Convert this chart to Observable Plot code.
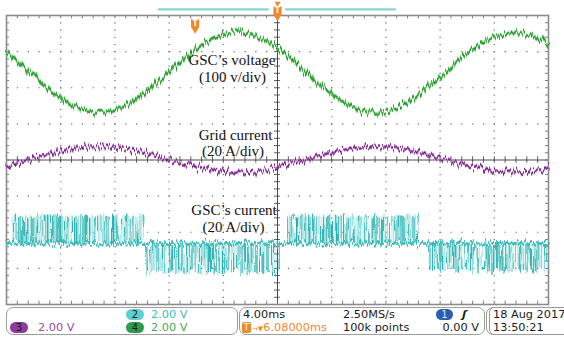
<!DOCTYPE html>
<html><head><meta charset="utf-8">
<script src="https://cdn.jsdelivr.net/npm/d3@7"></script>
<script src="https://cdn.jsdelivr.net/npm/@observablehq/plot@0.6"></script>
<style>
html,body{margin:0;padding:0;background:#fff;width:564px;height:338px;overflow:hidden;}
#wrap{position:relative;width:564px;height:338px;}
#chart svg{display:block;}
#status{position:absolute;left:0;top:0;width:564px;height:338px;font-family:"DejaVu Sans";font-size:11.3px;color:#1a1a1a;}
.box{position:absolute;border:1px solid #9c9c9c;border-radius:7px;box-sizing:border-box;}
.t{position:absolute;white-space:nowrap;line-height:13px;}
.badge{position:absolute;border-radius:6px;text-align:center;line-height:11px;height:11px;font-size:10px;color:#1a1a1a;}
</style></head><body>
<svg width="0" height="0" style="position:absolute">
<defs>
<filter id="jag" filterUnits="userSpaceOnUse" x="0" y="0" width="564" height="306">
  <feTurbulence type="fractalNoise" baseFrequency="0.5 0.02" numOctaves="2" seed="4" result="n"/>
  <feColorMatrix in="n" type="matrix" values="0 0 0 0 0.5  0 1 0 0 0  0 0 0 0 0.5  0 0 0 0 1" result="m"/>
  <feDisplacementMap in="SourceGraphic" in2="m" scale="15" xChannelSelector="R" yChannelSelector="G"/>
</filter>
<filter id="jagpwm" filterUnits="userSpaceOnUse" x="0" y="0" width="564" height="306">
  <feTurbulence type="fractalNoise" baseFrequency="0.35 0.01" numOctaves="2" seed="9" result="n"/>
  <feColorMatrix in="n" type="matrix" values="1 0 0 0 0  0 1 0 0 0  0 0 0 0 0.5  0 0 0 0 1" result="m"/>
  <feDisplacementMap in="SourceGraphic" in2="m" scale="14" xChannelSelector="R" yChannelSelector="G"/>
</filter>
<pattern id="pwm" patternUnits="userSpaceOnUse" width="3.7" height="400">
  <rect x="0" y="0" width="2.0" height="400" fill="#b4e8e8"/>
  <rect x="0" y="0" width="0.9" height="400" fill="#22adad"/>
  <rect x="1.5" y="0" width="0.6" height="400" fill="#4ec5c5"/>
</pattern>
</defs></svg>
<div id="wrap"><div id="chart"></div>
<div id="status">
  <div class="box" style="left:6px;top:307px;width:232px;height:28px;"></div>
  <div class="box" style="left:239px;top:307px;width:246px;height:28px;"></div>
  <div class="box" style="left:486px;top:307px;width:100px;height:28px;"></div>
  <div class="box" style="left:489px;top:307px;width:100px;height:28px;border-radius:5px;"></div>

  <div class="badge" style="left:126px;top:308.5px;width:18px;background:#5fcfcf;">2</div>
  <div class="t" style="left:151px;top:307.5px;color:#3dbdbd;">2.00 V</div>
  <div class="badge" style="left:10px;top:321.5px;width:18px;background:#8e3a9e;">3</div>
  <div class="t" style="left:38px;top:320.5px;color:#9a4aa8;">2.00 V</div>
  <div class="badge" style="left:126px;top:321.5px;width:18px;background:#2f9a4a;">4</div>
  <div class="t" style="left:151px;top:320.5px;color:#46ad4a;">2.00 V</div>

  <div class="t" style="left:243px;top:307.5px;">4.00ms</div>
  <div class="t" style="left:343px;top:307.5px;">2.50MS/s</div>
  <div class="badge" style="left:436px;top:308.5px;width:17px;background:#2b5cb2;color:#e8e8e8;">1</div>
  <div class="t" style="left:462px;top:307.5px;font-style:italic;font-weight:bold;">ʃ</div>
  <div class="badge" style="left:242px;top:321.5px;width:9px;border-radius:2px;background:#f0892a;color:#fff;font-size:9px;">T</div>
  <div class="t" style="left:252px;top:320.5px;color:#f0892a;"><span style="font-size:7px;">→▼</span>6.08000ms</div>
  <div class="t" style="left:343px;top:320.5px;">100k points</div>
  <div class="t" style="right:85px;top:320.5px;">0.00 V</div>

  <div class="t" style="left:493px;top:307.5px;">18 Aug 2017</div>
  <div class="t" style="left:493px;top:320.5px;">13:50:21</div>
</div>
</div>
<script>
// time axis: ms relative to screen centre (4 ms/div), vertical: divisions
const times = [-20,-19,-18,-17,-16,-15,-14,-13,-12,-11,-10,-9,-8,-7,-6,-5,-4,-3,-2,-1,0,1,2,3,4,5,6,7,8,9,10,11,12,13,14,15,16,17,18,19,20];
const gscVoltage = [2.985,2.672,2.335,2.007,1.718,1.492,1.357,1.321,1.388,1.553,1.797,2.103,2.437,2.770,3.070,3.308,3.463,3.520,3.473,3.328,3.097,2.802,2.471,2.135,1.826,1.574,1.401,1.323,1.350,1.477,1.693,1.976,2.301,2.639,2.955,3.220,3.412,3.509,3.504,3.397,3.198];
const gridCurrent = [-0.160,-0.060,0.047,0.151,0.243,0.315,0.358,0.370,0.348,0.296,0.218,0.121,0.015,-0.091,-0.187,-0.262,-0.312,-0.330,-0.315,-0.269,-0.195,-0.101,0.004,0.111,0.209,0.289,0.344,0.369,0.361,0.320,0.251,0.161,0.058,-0.050,-0.150,-0.235,-0.296,-0.327,-0.325,-0.291,-0.227];
// GSC current: switching bursts (start, end, peak level) around a zero level
const pwmStart = [-19.5,-9.5,0.75,11.15];
const pwmEnd = [-9.9,0.2,10.55,19.9];
const pwmPeak = [-1.55,-3.12,-1.55,-3.08];
const gscBaseT = [-20,20];
const gscBase = [-2.31,-2.31];
const xGrid = [-16,-12,-8,-4,4,8,12,16];
const yGrid = [-3,-2,-1,1,2,3];
const labelText = ["GSC\u2019s voltage","(100 v/div)","Grid current","(20 A/div)","GSC\u2019s current","(20 A/div)"];
const labelX = [-3.36,-3.32,-3.1,-3.28,-3.21,-3.25];
const labelY = [2.76,2.29,0.68,0.24,-1.40,-1.87];
const recordBar = [-8.78,8.78];
const trigT = [-6.08];

const minorX = d3.range(-20, 20.001, 0.8);
const minorY = d3.range(-4, 4.001, 0.2);
const grid = "#6a6a6a", axisC = "#4a4a4a", orange = "#f0892a";

const chart = Plot.plot({
  width: 564, height: 306,
  marginLeft: 6, marginRight: 16, marginTop: 15, marginBottom: 2,
  x: {domain: [-20, 20], axis: null},
  y: {domain: [-4, 4], axis: null},
  style: {background: "white", overflow: "visible"},
  marks: [
    Plot.ruleX(xGrid, {stroke: grid, strokeWidth: 1.2, strokeDasharray: "1.2,6.025"}),
    Plot.ruleY(yGrid, {stroke: grid, strokeWidth: 1.2, strokeDasharray: "1.2,9.64"}),
    Plot.ruleX([0], {stroke: axisC, strokeWidth: 1}),
    Plot.ruleY([0], {stroke: axisC, strokeWidth: 1}),
    Plot.ruleX(minorX, {x: d => d, y1: -0.09, y2: 0.09, stroke: axisC, strokeWidth: 0.9}),
    Plot.ruleY(minorY, {y: d => d, x1: -0.22, x2: 0.22, stroke: axisC, strokeWidth: 0.9}),
    Plot.ruleX(minorX, {x: d => d, y1: 4, y2: 3.91, stroke: grid, strokeWidth: 0.9}),
    Plot.ruleX(minorX, {x: d => d, y1: -4, y2: -3.91, stroke: grid, strokeWidth: 0.9}),
    Plot.ruleY(minorY, {y: d => d, x1: -20, x2: -19.78, stroke: grid, strokeWidth: 0.9}),
    Plot.ruleY(minorY, {y: d => d, x1: 20, x2: 19.78, stroke: grid, strokeWidth: 0.9}),
    Plot.frame({stroke: "#8c8c8c", strokeWidth: 1.6}),
    // GSC current bursts
    Plot.rect(pwmStart, {x1: pwmStart, x2: pwmEnd, y1: -2.31, y2: pwmPeak, fill: "url(#pwm)"}),
    Plot.line(gscBaseT, {x: gscBaseT, y: gscBase, stroke: "#35baba", strokeWidth: 2.6}),
    // grid current
    Plot.line(times, {x: times, y: gridCurrent, stroke: "#b36cc2", strokeWidth: 3.4, curve: "catmull-rom"}),
    Plot.line(times, {x: times, y: gridCurrent, stroke: "#7a2389", strokeWidth: 1.3, curve: "catmull-rom"}),
    // GSC voltage
    Plot.line(times, {x: times, y: gscVoltage, stroke: "#5fc45f", strokeWidth: 3.6, curve: "catmull-rom"}),
    Plot.line(times, {x: times, y: gscVoltage, stroke: "#2c9334", strokeWidth: 1.3, curve: "catmull-rom"}),
    // labels
    Plot.text(labelText, {x: labelX, y: labelY, text: d => d, fontFamily: "Liberation Serif", fontSize: 15, fill: "#111"}),
    // record bar & markers
    Plot.ruleY([4.17], {x1: recordBar[0], x2: -0.6, stroke: "#86d6d6", strokeWidth: 2.2}),
    Plot.ruleY([4.17], {x1: 0.6, x2: recordBar[1], stroke: "#86d6d6", strokeWidth: 2.2}),
    Plot.dot([0], {x: 0, y: 4.33, symbol: "triangle", rotate: 180, r: 2.2, fill: orange}),
    Plot.dot([0], {x: 0, y: 4.14, symbol: "square", r: 4.6, fill: orange}),
    Plot.dot([0], {x: 0, y: 3.97, symbol: "triangle", rotate: 180, r: 3.2, fill: orange}),
    Plot.text([0], {x: 0, y: 4.14, text: () => "T", fill: "#fff", fontSize: 8, fontWeight: "bold", fontFamily: "DejaVu Sans"}),
    Plot.dot(trigT, {x: d => d, y: 3.79, symbol: "square", r: 4.6, fill: orange}),
    Plot.dot(trigT, {x: d => d, y: 3.63, symbol: "triangle", rotate: 180, r: 3.2, fill: orange}),
    Plot.text(trigT, {x: d => d, y: 3.79, text: () => "T", fill: "#fff", fontSize: 8, fontWeight: "bold", fontFamily: "DejaVu Sans"})
  ]
});
chart.querySelectorAll('g[aria-label="line"]').forEach(g => g.setAttribute("filter", "url(#jag)"));
chart.querySelectorAll('g[aria-label="rect"]').forEach(g => g.setAttribute("filter", "url(#jagpwm)"));
document.getElementById("chart").appendChild(chart);
</script>
</body></html>
